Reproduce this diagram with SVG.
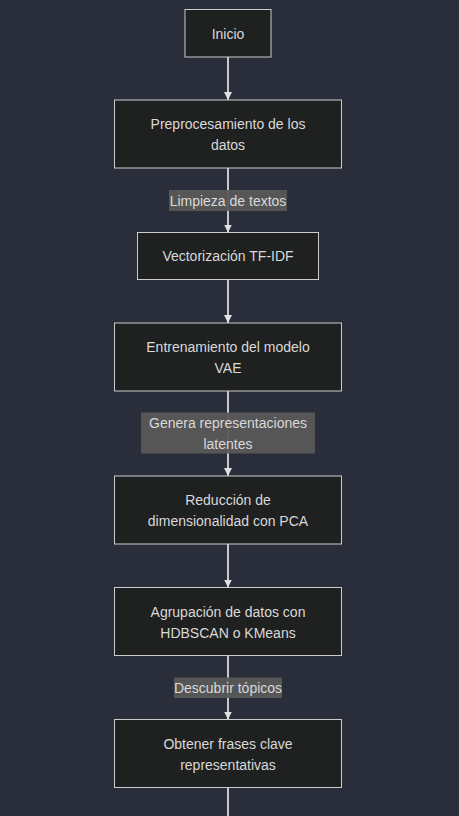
<svg xmlns="http://www.w3.org/2000/svg" width="459" height="816" viewBox="0 0 459 816">
<defs>
<style>
.node rect{fill:#1f2020;stroke:#cccccc;stroke-width:1}
.node text,.lbl text{font-family:"Liberation Sans",Arial,sans-serif;font-size:14px;fill:#d9d9d9;text-anchor:middle}
.lbl rect{fill:#585858;opacity:0.95}
.edge{stroke:#c8c8c8;stroke-width:2;fill:none}
</style>
<marker id="arr" viewBox="0 0 10 10" refX="10" refY="5" markerUnits="userSpaceOnUse" markerWidth="8" markerHeight="8" orient="auto">
<path d="M0,0 L10,5 L0,10 z" fill="#e0e0e0"/>
</marker>
</defs>
<rect width="459" height="816" fill="#2a2e3a"/>
<g id="connectors">
<line class="edge" x1="228" y1="57" x2="228" y2="100" marker-end="url(#arr)"/>
<line class="edge" x1="228" y1="168" x2="228" y2="232.5" marker-end="url(#arr)"/>
<line class="edge" x1="228" y1="279.5" x2="228" y2="323" marker-end="url(#arr)"/>
<line class="edge" x1="228" y1="391" x2="228" y2="476" marker-end="url(#arr)"/>
<line class="edge" x1="228" y1="544" x2="228" y2="587.5" marker-end="url(#arr)"/>
<line class="edge" x1="228" y1="655.5" x2="228" y2="719.5" marker-end="url(#arr)"/>
<line class="edge" x1="228" y1="787.5" x2="228" y2="816"/>
</g>
<g id="label-limpieza" class="lbl">
<rect x="169" y="190" width="118" height="21"/>
<text x="228" y="205.5">Limpieza de textos</text>
</g>
<g id="label-genera" class="lbl">
<rect x="141" y="412.5" width="174" height="41"/>
<text x="228" y="427.5">Genera representaciones</text>
<text x="228" y="448.5">latentes</text>
</g>
<g id="label-descubrir" class="lbl">
<rect x="174" y="677.5" width="108" height="20.5"/>
<text x="228" y="692.5">Descubrir tópicos</text>
</g>
<g id="n-inicio" class="node">
<rect x="185" y="9.5" width="86" height="47.5"/>
<text x="228" y="38.5">Inicio</text>
</g>
<g id="n-preproc" class="node">
<rect x="114.5" y="100" width="227" height="68"/>
<text x="228" y="129">Preprocesamiento de los</text>
<text x="228" y="150">datos</text>
</g>
<g id="n-vector" class="node">
<rect x="137.5" y="232.5" width="181" height="47"/>
<text x="228" y="261">Vectorización TF-IDF</text>
</g>
<g id="n-vae" class="node">
<rect x="114.5" y="323" width="227" height="68"/>
<text x="228" y="352">Entrenamiento del modelo</text>
<text x="228" y="373">VAE</text>
</g>
<g id="n-pca" class="node">
<rect x="114.5" y="476" width="227" height="68"/>
<text x="228" y="505">Reducción de</text>
<text x="228" y="526">dimensionalidad con PCA</text>
</g>
<g id="n-cluster" class="node">
<rect x="114.5" y="587.5" width="227" height="68"/>
<text x="228" y="616.5">Agrupación de datos con</text>
<text x="228" y="637.5">HDBSCAN o KMeans</text>
</g>
<g id="n-frases" class="node">
<rect x="114.5" y="719.5" width="227" height="68"/>
<text x="228" y="748.5">Obtener frases clave</text>
<text x="228" y="769.5">representativas</text>
</g>
</svg>
